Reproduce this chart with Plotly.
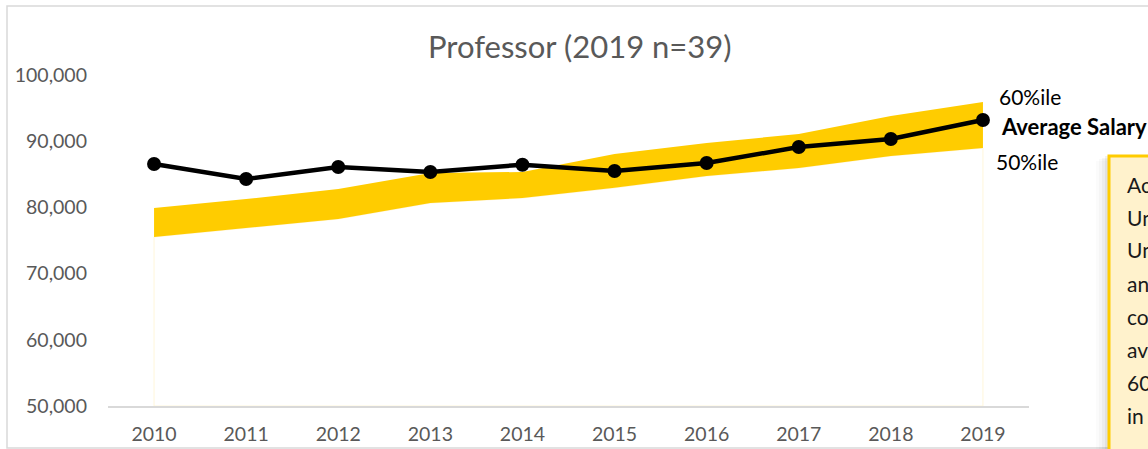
import plotly.graph_objects as go

# ---- data ----
years = [2010, 2011, 2012, 2013, 2014, 2015, 2016, 2017, 2018, 2019]
avg_salary = [86560, 84290, 86100, 85350, 86450, 85500, 86700, 89120, 90330, 93200]
pct50 = [75530, 76890, 78250, 80660, 81420, 82950, 84740, 85950, 87770, 88970]
pct60 = [79900, 81270, 82780, 85200, 85350, 88080, 89730, 91090, 93810, 95920]
y_ticks = [50000, 60000, 70000, 80000, 90000, 100000]
title_text = "Professor (2019 n=39)"
note_lines = ["According to the", "University of", "University", "and", "comparable", "average", "60%ile", "in"]

# ---- layout geometry (pixels) ----
W, H = 1148, 449
L, R, T, B = 108, 119, 75, 43
PW, PH = W - L - R, H - T - B


def px(x):
    return (x - L) / PW


def py(y):
    return (H - B - y) / PH


FONT = "Lato"
GREY = "#595959"

fig = go.Figure()

# faint base area (edges of the invisible stacked area)
base = y_ticks[0]
fig.add_trace(go.Scatter(
    x=[years[0]] + years + [years[-1], years[0]],
    y=[base] + pct50 + [base, base],
    mode="lines", line=dict(color="#FFF6DA", width=1),
    hoverinfo="skip", showlegend=False))

# 50%ile–60%ile band
fig.add_trace(go.Scatter(x=years, y=pct50, mode="lines",
                         line=dict(color="#FFCC00", width=0),
                         hoverinfo="skip", showlegend=False))
fig.add_trace(go.Scatter(x=years, y=pct60, mode="lines", fill="tonexty",
                         fillcolor="#FFCC00", line=dict(color="#FFCC00", width=0),
                         name="60%ile", showlegend=False))

# average salary
fig.add_trace(go.Scatter(x=years, y=avg_salary, mode="lines+markers",
                         line=dict(color="#000000", width=4.5),
                         marker=dict(color="#000000", size=14),
                         name="Average Salary", showlegend=False))

LBL = 21
annotations = [
    dict(xref="x", yref="y", x=years[-1], y=pct60[-1], text="60%ile",
         xanchor="left", yanchor="middle", xshift=14, yshift=6, showarrow=False,
         font=dict(family=FONT, size=LBL, color="#000000")),
    dict(xref="x", yref="y", x=years[-1], y=avg_salary[-1], text="<b>Average Salary</b>",
         xanchor="left", yanchor="middle", xshift=16, yshift=-6, showarrow=False,
         font=dict(family=FONT, size=22, color="#000000")),
    dict(xref="x", yref="y", x=years[-1], y=pct50[-1], text="50%ile",
         xanchor="left", yanchor="middle", xshift=11, yshift=-13, showarrow=False,
         font=dict(family=FONT, size=LBL, color="#000000")),
    dict(xref="paper", yref="paper", x=px(580), y=py(46), text=title_text,
         xanchor="center", yanchor="middle", showarrow=False,
         font=dict(family=FONT, size=31, color=GREY)),
]

# note box text lines
for i, line in enumerate(note_lines):
    annotations.append(dict(xref="paper", yref="paper", x=px(1125), y=py(184 + 33 * i),
                            text=line, xanchor="left", yanchor="middle", showarrow=False,
                            font=dict(family=FONT, size=21, color="#1A1A1A")))

shapes = [
    # chart border
    dict(type="rect", xref="paper", yref="paper", x0=px(7), x1=px(1400), y0=py(448), y1=py(6),
         line=dict(color="#D9D9D9", width=1.5), fillcolor="rgba(0,0,0,0)", layer="below"),
]
# soft shadow of note box
for off, a in [(12, 0.015), (9, 0.025), (6, 0.035), (3, 0.05)]:
    shapes.append(dict(type="rect", xref="paper", yref="paper", x0=px(1108 - off), x1=px(1400),
                       y0=py(470), y1=py(155 + off // 2),
                       line=dict(width=0), fillcolor=f"rgba(0,0,0,{a})", layer="above"))
shapes.append(dict(type="rect", xref="paper", yref="paper", x0=px(1109), x1=px(1400),
                   y0=py(470), y1=py(156),
                   line=dict(color="#FFCC00", width=3), fillcolor="#FFF2CC", layer="above"))

TICK = 19.5
fig.update_layout(
    width=W, height=H,
    margin=dict(l=L, r=R, t=T, b=B, autoexpand=False),
    paper_bgcolor="white", plot_bgcolor="white",
    font=dict(family=FONT, size=TICK, color=GREY),
    showlegend=False,
    annotations=annotations,
    shapes=shapes,
    xaxis=dict(range=[years[0] - 0.5, years[-1] + 0.5], tickmode="array", tickvals=years,
               ticktext=[str(y) for y in years], showgrid=False, zeroline=False,
               showline=True, linecolor="#D9D9D9", linewidth=1.5, ticks="", automargin=False,
               ticklabelstandoff=10, tickfont=dict(family=FONT, size=TICK, color=GREY)),
    yaxis=dict(range=[y_ticks[0], y_ticks[-1]], tickmode="array", tickvals=y_ticks,
               ticktext=[f"{v:,}" for v in y_ticks], showgrid=False, zeroline=False,
               showline=False, ticks="", ticklabelstandoff=20, automargin=False,
               tickfont=dict(family=FONT, size=TICK, color=GREY)),
)

fig.write_html("out.html", config={"displayModeBar": False},
               post_script="document.body.style.margin='0';document.body.style.overflow='hidden';")
